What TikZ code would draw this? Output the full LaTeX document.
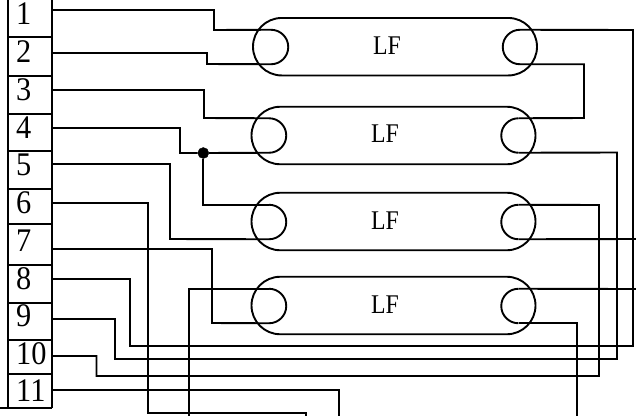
\documentclass[tikz,border=0pt]{standalone}
\usepackage{fontspec}
\usepackage{graphicx}
\setmainfont{Liberation Serif}
\usetikzlibrary{shapes.misc}
\newcommand{\numtxt}[1]{\scalebox{.92}[1]{\fontsize{33}{33}\selectfont #1}}
\newcommand{\lftxt}[1]{\scalebox{.88}[1]{\fontsize{27}{27}\selectfont #1}}
\tikzset{
  wire/.style={draw=black,line width=1.9pt},
  cell/.style={draw=black,line width=1.9pt},
  lamp/.style={rounded rectangle,draw=black,line width=1.9pt,inner sep=0pt,outer sep=0pt,minimum width=284pt,minimum height=57.5pt},
  pin/.style={circle,inner sep=0pt,outer sep=0pt,minimum size=34.5pt},
  num/.style={inner sep=0pt,anchor=west,text=black},
  lf/.style={inner sep=0pt,text=black},
  dot/.style={circle,fill=black,draw=black,inner sep=0pt,minimum size=11pt}
}
\begin{document}
\begin{tikzpicture}[x=1pt,y=-1pt]
\useasboundingbox (0,0) rectangle (636,416);
% terminal strip
\draw[cell] (8,0) -- (8,408);
\draw[cell] (52,0) -- (52,408);
\foreach \yy in {37,76,114,151,189,224,265,303,340,374}{\draw[cell] (8,\yy) -- (52,\yy);}
\draw[cell] (0,408) -- (52,408);
\node[num] (n1) at (16,14) {\numtxt{1}};
\node[num] (n2) at (16,51.5) {\numtxt{2}};
\node[num] (n3) at (16,90) {\numtxt{3}};
\node[num] (n4) at (16,128) {\numtxt{4}};
\node[num] (n5) at (16,165) {\numtxt{5}};
\node[num] (n6) at (16,203) {\numtxt{6}};
\node[num] (n7) at (16,241) {\numtxt{7}};
\node[num] (n8) at (16,279) {\numtxt{8}};
\node[num] (n9) at (16,316) {\numtxt{9}};
\node[num] (n10) at (16,354) {\numtxt{10}};
\node[num] (n11) at (16,391) {\numtxt{11}};
% terminal wire ends
\coordinate (t1) at (52,10);
\coordinate (t2) at (52,53);
\coordinate (t3) at (52,90);
\coordinate (t4) at (52,128);
\coordinate (t5) at (52,164);
\coordinate (t6) at (52,203);
\coordinate (t7) at (52,249);
\coordinate (t8) at (52,279);
\coordinate (t9) at (52,319);
\coordinate (t10) at (52,356);
\coordinate (t11) at (52,390);
% free ends
\coordinate (e1) at (636,239);
\coordinate (e2) at (636,289);
\coordinate (e3) at (306,416);
\coordinate (e4) at (339,416);
\coordinate (e5) at (189,416);
\coordinate (e6) at (577,416);
% lamps
\node[lamp] (L1) at (395,46.7) {};
\node[lamp] (L2) at (393.5,135.5) {};
\node[lamp] (L3) at (393.5,221.5) {};
\node[lamp] (L4) at (393.5,305.5) {};
\node[lf] (F1) at (387,46) {\lftxt{LF}};
\node[lf] (F2) at (385,134) {\lftxt{LF}};
\node[lf] (F3) at (385,221) {\lftxt{LF}};
\node[lf] (F4) at (385,305) {\lftxt{LF}};
\node[pin] (a1) at (271,47) {};
\node[pin] (b1) at (520,47) {};
\node[pin] (a2) at (269,135.5) {};
\node[pin] (b2) at (518.5,135.5) {};
\node[pin] (a3) at (269,222) {};
\node[pin] (b3) at (518.5,222) {};
\node[pin] (a4) at (269,306) {};
\node[pin] (b4) at (518.5,306) {};
\node[dot] (J) at (203.3,153) {};
% half-round electrode ends
\foreach \p in {a1,a2,a3,a4}{\draw[wire] (\p.north) arc[start angle=90,end angle=-90,radius=17.25pt];}
\foreach \p in {b1,b2,b3,b4}{\draw[wire] (\p.north) arc[start angle=90,end angle=270,radius=17.25pt];}
% wires
\draw[wire] (t1) -| (214,30) -- (a1.north);
\draw[wire] (t2) -| (207,64) -- (a1.south);
\draw[wire] (t3) -| (204,118) -- (a2.north);
\draw[wire] (t4) -| (180,153) -- (J) -- (a2.south);
\draw[wire] (J) |- (a3.north);
\draw[wire] (t5) -| (170,239) -- (a3.south);
\draw[wire] (t6) -| (148,413) -| (e3);
\draw[wire] (t7) -| (212,323) -- (a4.south);
\draw[wire] (t8) -| (130,346) -| (633,30) -- (b1.north);
\draw[wire] (t9) -| (115,359) -| (617,152.5) -- (b2.south);
\draw[wire] (t10) -| (96.5,376) -| (599,205) -- (b3.north);
\draw[wire] (t11) -| (e4);
\draw[wire] (a4.north) -| (e5);
\draw[wire] (b1.south) -| (584,118) -- (b2.north);
\draw[wire] (b3.south) -- (e1);
\draw[wire] (b4.north) -- (e2);
\draw[wire] (b4.south) -| (e6);
\end{tikzpicture}
\end{document}
